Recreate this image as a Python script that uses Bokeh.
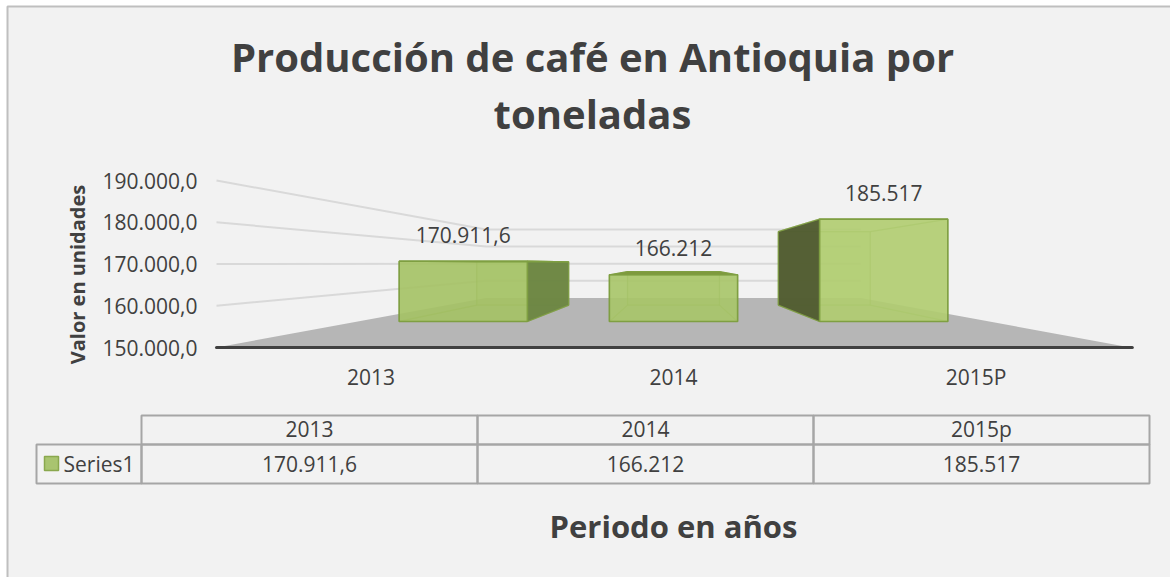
import math
from bokeh.plotting import figure
from bokeh.embed import file_html
from bokeh.resources import INLINE
from bokeh.models import Range1d, BoxAnnotation, LinearAxis
from bokeh.core.properties import value

# ---- data -------------------------------------------------------------
CATEGORIES = ["2013", "2014", "2015P"]
TABLE_HEADERS = ["2013", "2014", "2015p"]
VALUES = [170911.6, 166212, 185517]
VALUE_LABELS = ["170.911,6", "166.212", "185.517"]
TICKS = [150000, 160000, 170000, 180000, 190000]
TICK_LABELS = ["150.000,0", "160.000,0", "170.000,0", "180.000,0", "190.000,0"]
SERIES = "Series1"
TITLE_LINES = ["Producción de café en Antioquia por", "toneladas"]
X_TITLE = "Periodo en años"
Y_TITLE = "Valor en unidades"

# ---- canvas <-> scale set-up -------------------------------------------
W, H = 1170, 577
PX_PER_CAT = 304.67     # one category on the front plane
PX_PER_VAL = 41.75 / 10000
VP_PX_X, BASE_PX_Y = 673, 347
VP_PX_Y = 263

def xv(px): return 1 + (px - VP_PX_X) / PX_PER_CAT
def yv(py): return 150000 + (BASE_PX_Y - py) / PX_PER_VAL

VP_VALUE = yv(VP_PX_Y)
S_WALL, S_BAR_FRONT, S_BAR_BACK = 0.41, 0.69, 0.495
BAR_HALF = 0.305

def proj(c, v, s):
    return 1 + (c - 1) * s, VP_VALUE + (v - VP_VALUE) * s

TXT = "#404040"
FONT = value("Open Sans")

p = figure(width=W, height=H, output_backend="svg", toolbar_location=None,
           x_range=Range1d(xv(0), xv(W)), y_range=Range1d(yv(H), yv(0)),
           x_axis_location=None, y_axis_location=None,
           min_border_left=0, min_border_right=0, min_border_top=0, min_border_bottom=0)
p.outline_line_color = None
p.grid.visible = False
p.background_fill_color = "white"
p.border_fill_color = "white"

# chart area: background and the two visible sides of its border
p.patch([xv(7), xv(W), xv(W), xv(7)], [yv(6), yv(6), yv(H), yv(H)], fill_color="#f2f2f2", line_color=None)
p.line([xv(7), xv(7), xv(W)], [yv(H), yv(6), yv(6)], line_color="#bfbfbf", line_width=2)

# real value axis: its labels are pulled back inside the frame
ax = LinearAxis(ticker=TICKS, bounds=(TICKS[0], TICKS[-1]),
                major_label_overrides=dict(zip(TICKS, TICK_LABELS)),
                major_label_standoff=-197, major_tick_line_color=None, minor_tick_line_color=None,
                major_tick_in=0, major_tick_out=0,
                axis_line_color=None, major_label_text_font="Open Sans", major_label_text_font_size="21px",
                major_label_text_color=TXT)
p.add_layout(ax, "left")

# floor and grid
cL, cR = -0.5, 2.5
fxs, fys = zip(proj(cL, TICKS[0], 1), proj(cR, TICKS[0], 1), proj(cR, TICKS[0], S_WALL), proj(cL, TICKS[0], S_WALL))
p.patch(list(fxs), list(fys), fill_color="#b6b6b6", line_color=None)
for t in TICKS[1:]:
    a, b, c = proj(cL, t, 1), proj(cL, t, S_WALL), proj(cR, t, S_WALL)
    p.line([a[0], b[0], c[0]], [a[1], b[1], c[1]], line_color="#d9d9d9", line_width=2)

# bars as translucent perspective boxes
SIDE_COLORS = ["#6c8542", None, "#4f5a2f"]
TOP_COLORS = ["#7e993e", "#7e993e", None]
FRONT_COLORS = ["#a4c264", "#a8c568", "#b0cd70"]
EDGE = "#7f9f42"

def face(pts, fill, alpha, edge_alpha=0.35, lw=1.2):
    x, y = zip(*pts)
    p.patch(list(x), list(y), fill_color=fill, fill_alpha=alpha, line_color=EDGE, line_alpha=edge_alpha, line_width=lw)

for i, v in enumerate(VALUES):
    c0, c1 = i - BAR_HALF, i + BAR_HALF
    b = TICKS[0]
    LIGHT = FRONT_COLORS[i]
    F = lambda c, val: proj(c, val, S_BAR_FRONT)
    B = lambda c, val: proj(c, val, S_BAR_BACK)
    face([B(c0, b), B(c1, b), B(c1, v), B(c0, v)], LIGHT, 0.5)
    face([F(c0, b), F(c1, b), B(c1, b), B(c0, b)], LIGHT, 0.35)
    face([F(c0, b), B(c0, b), B(c0, v), F(c0, v)], LIGHT, 0.35)
    face([F(c1, b), B(c1, b), B(c1, v), F(c1, v)], LIGHT, 0.35)
    if TOP_COLORS[i] is None:
        face([F(c0, v), F(c1, v), B(c1, v), B(c0, v)], LIGHT, 0.35)
    if SIDE_COLORS[i]:
        cs = c1 if i == 0 else c0
        face([F(cs, b), B(cs, b), B(cs, v), F(cs, v)], SIDE_COLORS[i], 0.95, 0.8)
    face([F(c0, v), F(c1, v), F(c1, b), F(c0, b)], LIGHT, 0.85, 1, 1.6)
    if TOP_COLORS[i]:
        face([F(c0, v), F(c1, v), B(c1, v), B(c0, v)], TOP_COLORS[i], 1, 1)

# front base line
a, b = proj(cL, TICKS[0], 1), proj(cR, TICKS[0], 1)
p.line([a[0], b[0] + 0.006], [a[1], b[1]], line_color="#404040", line_width=3, line_cap="round")

def txt(x, y, s, size, bold=False, color=TXT, align="center", angle=0):
    p.text([x], [y], text=[s], text_font=FONT, text_font_size=f"{size}px", text_color=color, angle=angle,
           text_align=align, text_baseline="middle", text_font_style="bold" if bold else "normal")

# titles
TITLE_Y = [56, 113]
for line, py in zip(TITLE_LINES, TITLE_Y):
    txt(xv(592), yv(py), line, 40, True)
txt(xv(673), yv(525), X_TITLE, 31, True)
txt(xv(77), yv(274), Y_TITLE, 20, True, angle=math.pi / 2)

# data labels, category labels
for i, (v, lab) in enumerate(zip(VALUES, VALUE_LABELS)):
    fx, fy = proj(i, v, S_BAR_FRONT)
    top_px = BASE_PX_Y - (fy - TICKS[0]) * PX_PER_VAL
    txt(fx, yv(top_px - 26.5), lab, 21)
for i, cat in enumerate(CATEGORIES):
    txt(1 + (i - 1) * 0.993, yv(376.5), cat, 21)

# data table
COLS = [141, 477, 813, 1149]
ROWS = [415, 444, 483]
LINE = "#a6a6a6"

def cell(l, r, t, bt, fill=None, line=LINE, width=2):
    p.add_layout(BoxAnnotation(left=xv(l), right=xv(r), top=yv(t), bottom=yv(bt),
                               fill_color=fill, fill_alpha=1 if fill else 0,
                               line_color=line, line_width=width, line_alpha=1))

for j in range(3):
    cell(COLS[j], COLS[j + 1], ROWS[0], ROWS[1])
    cell(COLS[j], COLS[j + 1], ROWS[1], ROWS[2])
    xc = xv((COLS[j] + COLS[j + 1]) / 2)
    txt(xc, yv(428.5), TABLE_HEADERS[j], 21)
    txt(xc, yv(463), VALUE_LABELS[j], 21)
cell(36, COLS[0], ROWS[1], ROWS[2])
cell(44, 58, 456, 470, fill="#a9c470", line="#8aa84e", width=1.5)
txt(xv(63), yv(463), SERIES, 21, align="left")

open("out.html", "w").write(file_html(p, INLINE))
